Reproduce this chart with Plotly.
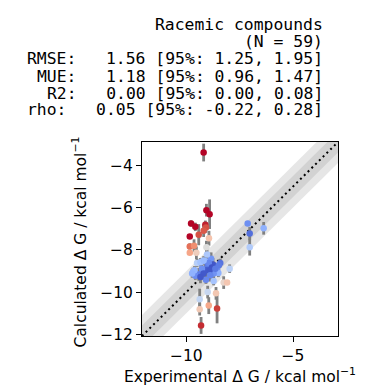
import numpy as np
import plotly.graph_objects as go

# ---- data ----
exp_dg = [-9.19, -9.06, -8.91, -9.78, -9.58, -9.11, -9.08, -9.19, -9.42, -9.84,
          -8.94, -9.06, -9.84, -9.64, -9.84, -9.53, -9.50, -9.34, -9.11, -8.84,
          -8.75, -9.00, -8.41, -8.56, -8.50, -7.97, -9.69, -9.42, -9.58, -9.06,
          -8.72, -9.08, -8.72, -8.25, -8.09, -9.00, -8.61, -9.375, -8.95, -9.375,
          -8.56, -9.31, -7.125, -7.03, -7.03, -6.375, -9.27, -8.95, -8.80, -9.19,
          -9.62, -8.91, -8.64, -9.34, -8.88, -8.48, -9.73, -9.19, -9.03]
calc_dg = [-3.39, -6.12, -6.31, -6.75, -6.91, -6.81, -6.94, -7.09, -7.28, -7.37,
           -7.45, -7.87, -7.84, -7.80, -8.14, -8.14, -8.62, -8.59, -8.53, -8.42,
           -8.69, -8.75, -8.62, -8.94, -9.09, -8.89, -9.05, -9.16, -9.22, -8.97,
           -9.12, -9.41, -9.48, -9.55, -9.55, -10.00, -10.06, -10.34, -10.64, -10.81,
           -10.78, -11.58, -6.75, -7.22, -7.87, -6.98, -8.89, -8.62, -8.84, -9.12,
           -8.97, -8.97, -8.89, -9.28, -9.20, -8.73, -9.12, -8.50, -8.22]
calc_err = [0.42, 0.30, 0.70, 0.15, 0.20, 0.20, 0.25, 0.30, 0.50, 0.10,
            0.35, 0.30, 0.15, 0.30, 0.10, 0.30, 0.20, 0.20, 0.30, 0.30,
            0.30, 0.30, 0.20, 0.20, 0.20, 0.20, 0.20, 0.30, 0.20, 0.30,
            0.30, 0.20, 0.20, 0.30, 0.10, 0.30, 0.30, 0.50, 0.40, 0.30,
            0.70, 0.40, 0.10, 0.30, 0.40, 0.30, 0.20, 0.20, 0.20, 0.30,
            0.20, 0.30, 0.20, 0.30, 0.30, 0.20, 0.20, 0.20, 0.30]

title_lines = ["Racemic compounds", "(N = 59)",
               "RMSE:   1.56 [95%: 1.25, 1.95]",
               "MUE:   1.18 [95%: 0.96, 1.47]",
               "R2:   0.00 [95%: 0.00, 0.08]",
               "rho:   0.05 [95%: -0.22, 0.28]"]

x = np.array(exp_dg)
y = np.array(calc_dg)
ax_min = min(x.min(), y.min()) - 0.5
ax_max = max(x.max(), y.max()) + 0.5
abs_err = np.abs(x - y)

coolwarm = [
    [0.0, "rgb(59,76,192)"], [0.0625, "rgb(77,104,215)"], [0.125, "rgb(98,130,234)"],
    [0.1875, "rgb(119,154,247)"], [0.25, "rgb(141,176,254)"], [0.3125, "rgb(163,194,255)"],
    [0.375, "rgb(184,208,249)"], [0.4375, "rgb(204,217,238)"], [0.5, "rgb(221,221,221)"],
    [0.5625, "rgb(236,211,197)"], [0.625, "rgb(245,196,173)"], [0.6875, "rgb(247,177,148)"],
    [0.75, "rgb(244,154,123)"], [0.8125, "rgb(236,127,99)"], [0.875, "rgb(222,96,77)"],
    [0.9375, "rgb(203,62,56)"], [1.0, "rgb(180,4,38)"]]

fig = go.Figure()
band = "rgba(128,128,128,0.2)"
for w in (1.0, 0.5):
    fig.add_trace(go.Scatter(
        x=[ax_min, ax_max, ax_max, ax_min, ax_min],
        y=[ax_min - w, ax_max - w, ax_max + w, ax_min + w, ax_min - w],
        fill="toself", fillcolor=band, line=dict(width=0), mode="lines",
        hoverinfo="skip", showlegend=False))
fig.add_trace(go.Scatter(x=[ax_min, ax_max], y=[ax_min, ax_max], mode="lines",
                         line=dict(color="black", width=2, dash="2px,3.3px"),
                         showlegend=False))
fig.add_trace(go.Scatter(x=x, y=y, mode="markers",
                         marker=dict(size=1, color="rgba(0,0,0,0)"),
                         error_y=dict(type="data", array=calc_err, color="rgb(128,128,128)",
                                      thickness=2.8, width=0),
                         showlegend=False))
fig.add_trace(go.Scatter(x=x, y=y, mode="markers",
                         marker=dict(size=6.5, color=abs_err, colorscale=coolwarm,
                                     cmin=0, cmax=2.372, line=dict(width=0)),
                         showlegend=False))

L, R, T, B = 134, 36, 134, 64
W, H = 366, 392
pw, ph = W - L - R, H - T - B

annos = []
line_ys = [17, 33.5, 50.5, 68, 85, 102]
for txt, py in zip(title_lines, line_ys):
    annos.append(dict(text=txt.replace(" ", "\u00a0"), xref="paper", yref="paper",
                      x=(317 - L) / pw, y=(H - B - py) / ph, xanchor="right", yanchor="middle",
                      showarrow=False, font=dict(family="DejaVu Sans Mono", size=16.4, color="black")))
annos.append(dict(text="Experimental Δ G / kcal mol<sup>−1</sup>", xref="paper", yref="paper",
                  x=0.5, y=(H - B - 367.5) / ph, xanchor="center", yanchor="middle",
                  showarrow=False, font=dict(family="DejaVu Sans", size=15.5, color="black")))
annos.append(dict(text="Calculated Δ G / kcal mol<sup>−1</sup>", xref="paper", yref="paper",
                  x=(71.5 - L) / pw, y=(H - B - 234) / ph, xanchor="center", yanchor="middle",
                  textangle=-90, showarrow=False,
                  font=dict(family="DejaVu Sans", size=15.5, color="black")))

axis_common = dict(range=[ax_min, ax_max], showgrid=False, zeroline=False,
                   showline=True, linecolor="black", linewidth=1, mirror=True,
                   ticks="outside", ticklen=5, tickwidth=1, tickcolor="black",
                   tickfont=dict(family="DejaVu Sans", size=15.5, color="black"))
fig.update_layout(
    width=W, height=H, margin=dict(l=L, r=R, t=T, b=B, autoexpand=False),
    paper_bgcolor="white", plot_bgcolor="white",
    xaxis=dict(**axis_common, tick0=0, dtick=5),
    yaxis=dict(**axis_common, tick0=0, dtick=2),
    annotations=annos, showlegend=False)
fig.write_html("out.html")
